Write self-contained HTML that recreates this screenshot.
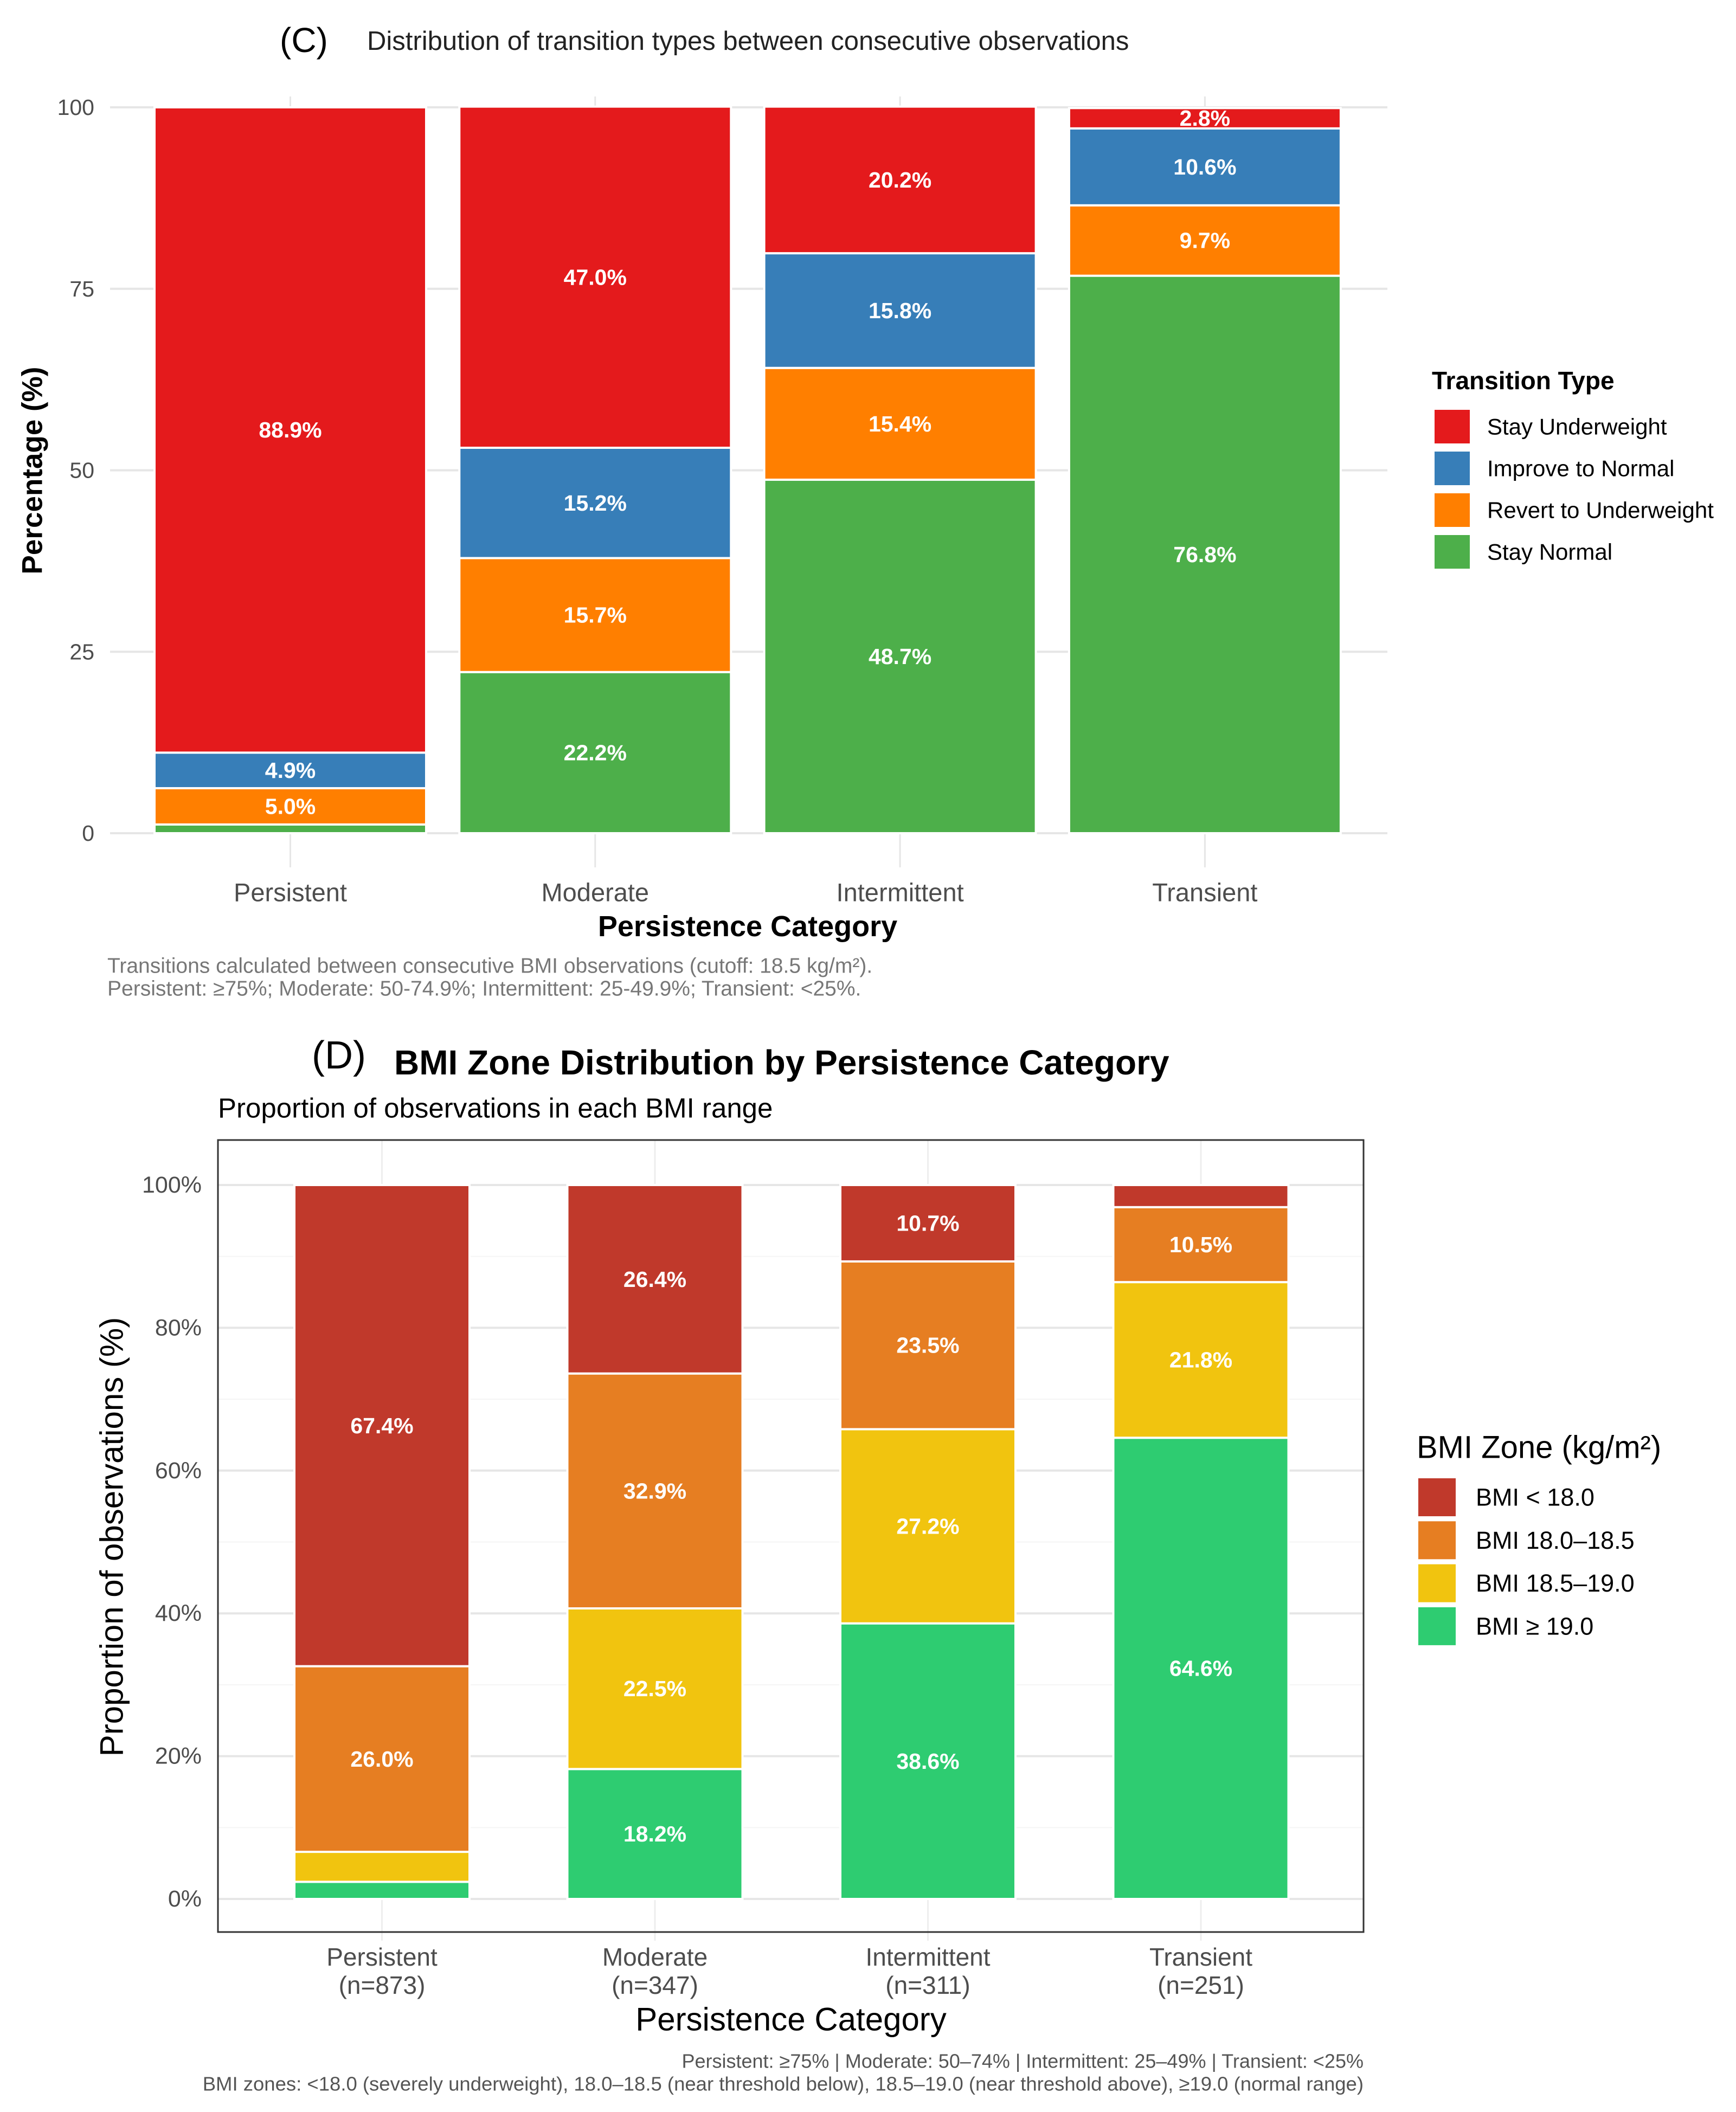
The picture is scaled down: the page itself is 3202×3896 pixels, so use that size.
<!DOCTYPE html>
<html><head><meta charset="utf-8">
<style>
html,body{margin:0;padding:0;background:#fff;}
svg{display:block;font-family:"Liberation Sans",sans-serif;}
</style></head>
<body>
<svg id="fig" width="3202" height="3896" viewBox="0 0 3202 3896" xmlns="http://www.w3.org/2000/svg">
  <g id="panelC">
    <text x="516" y="74" font-size="64" dominant-baseline="central" fill="#000">(C)</text>
    <text x="677" y="76" font-size="49" dominant-baseline="central" fill="#222">Distribution of transition types between consecutive observations</text>
    <g id="gridC"></g>
    <g id="barsC"></g>
    <text transform="translate(60,868) rotate(-90)" text-anchor="middle" dominant-baseline="central" font-size="53" font-weight="bold" fill="#000">Percentage (%)</text>
    <text x="1379" y="1709" text-anchor="middle" dominant-baseline="central" font-size="54" font-weight="bold" fill="#000">Persistence Category</text>
    <text x="198" y="1782" dominant-baseline="central" font-size="39" fill="#777">Transitions calculated between consecutive BMI observations (cutoff: 18.5 kg/m²).</text>
    <text x="198" y="1824" dominant-baseline="central" font-size="39" fill="#777">Persistent: ≥75%; Moderate: 50-74.9%; Intermittent: 25-49.9%; Transient: &lt;25%.</text>
    <g id="legendC">
      <text x="2641" y="702" dominant-baseline="central" font-size="46" font-weight="bold" fill="#000">Transition Type</text>
    </g>
  </g>
  <g id="panelD">
    <text x="575" y="1947" font-size="72" dominant-baseline="central" fill="#000">(D)</text>
    <text x="727" y="1960" font-size="64" font-weight="bold" dominant-baseline="central" fill="#000">BMI Zone Distribution by Persistence Category</text>
    <text x="402" y="2044" font-size="51" dominant-baseline="central" fill="#000">Proportion of observations in each BMI range</text>
    <g id="gridD"></g>
    <g id="barsD"></g>
    <rect x="402" y="2103" width="2113" height="1461" fill="none" stroke="#333" stroke-width="3"/>
    <text transform="translate(206,2835) rotate(-90)" text-anchor="middle" dominant-baseline="central" font-size="60" fill="#000">Proportion of observations (%)</text>
    <text x="1459" y="3725" text-anchor="middle" dominant-baseline="central" font-size="60" fill="#000">Persistence Category</text>
    <text x="2515" y="3802" text-anchor="end" dominant-baseline="central" font-size="36" fill="#555">Persistent: ≥75%  |  Moderate: 50–74%  |  Intermittent: 25–49%  |  Transient: &lt;25%</text>
    <text x="2515" y="3844" text-anchor="end" dominant-baseline="central" font-size="36.5" fill="#555">BMI zones: &lt;18.0 (severely underweight), 18.0–18.5 (near threshold below), 18.5–19.0 (near threshold above), ≥19.0 (normal range)</text>
    <g id="legendD">
      <text x="2613" y="2670" dominant-baseline="central" font-size="58" fill="#000">BMI Zone (kg/m²)</text>
    </g>
  </g>
</svg>
<script>
// ---------- Panel C data ----------
const catsC = ["Persistent","Moderate","Intermittent","Transient"];
const seriesNamesC = ["Stay Normal","Revert to Underweight","Improve to Normal","Stay Underweight"];
const stayNormalC = [1.2, 22.2, 48.7, 76.8];
const revertC = [5.0, 15.7, 15.4, 9.7];
const improveC = [4.9, 15.2, 15.8, 10.6];
const stayUnderC = [88.9, 47.0, 20.2, 2.8];
const ticksC = [0, 25, 50, 75, 100];
// ---------- Panel D data ----------
const catsD = ["Persistent","Moderate","Intermittent","Transient"];
const nD = [873, 347, 311, 251];
const seriesNamesD = ["BMI ≥ 19.0","BMI 18.5–19.0","BMI 18.0–18.5","BMI < 18.0"];
const bmi19plusD = [2.4, 18.2, 38.6, 64.6];
const bmi185to19D = [4.2, 22.5, 27.2, 21.8];
const bmi18to185D = [26.0, 32.9, 23.5, 10.5];
const bmiUnder18D = [67.4, 26.4, 10.7, 3.1];
const ticksD = [0, 20, 40, 60, 80, 100];

const NS = "http://www.w3.org/2000/svg";
function mk(tag, attrs, parent){
  const e = document.createElementNS(NS, tag);
  for (const k in attrs) e.setAttribute(k, attrs[k]);
  parent.appendChild(e);
  return e;
}

function drawPanel(cfg){
  const {cats, series, names, colors, ticks, grid, bars, legend, y0, y100, xL, xR, barL, bandW, barW, tickFmt, labelMin, tickX, prefix, xLabelY, xLabels, legendKey} = cfg;
  const yS = v => y0 - (v/100)*(y0-y100);
  const cx = i => barL + i*bandW + barW/2;
  if (cfg.minor){
    for (let i=0;i<ticks.length-1;i++){
      const mv=(ticks[i]+ticks[i+1])/2;
      const l = mk("line",{x1:xL,x2:xR,y1:yS(mv),y2:yS(mv),stroke:"#f5f5f5","stroke-width":2},grid);
      
      
    }
  }
  ticks.forEach(t=>{
    const l = mk("line",{x1:xL,x2:xR,y1:yS(t),y2:yS(t),stroke:"#e6e6e6","stroke-width":4},grid);
    
    
    const tx = mk("text",{x:tickX,y:yS(t),"text-anchor":"end","dominant-baseline":"central","font-size":cfg.tickSize,fill:"#4d4d4d"},grid);
    tx.textContent = tickFmt(t);
    
    
  });
  cats.forEach((c,i)=>{
    const vl = mk("line",{x1:cx(i),x2:cx(i),y1:cfg.vTop,y2:cfg.vBot,stroke:cfg.vColor,"stroke-width":cfg.vW},grid);
    
    
    const lines = xLabels(i);
    lines.forEach((ln,j)=>{
      const t = mk("text",{x:cx(i),y:xLabelY[j],"text-anchor":"middle","dominant-baseline":"central","font-size":cfg.xLabSize,fill:"#4d4d4d"},grid);
      t.textContent = ln;
      
      
    });
    let cum = 0;
    series.forEach((arr,s)=>{
      const v = arr[i];
      const ya = yS(cum), yb = yS(cum+v);
      const r = mk("rect",{x:barL+i*bandW,y:yb,width:barW,height:ya-yb,fill:colors[s],stroke:"#fff","stroke-width":4},bars);
      
      
      if (v>=labelMin){
        const t = mk("text",{x:cx(i),y:(ya+yb)/2,"text-anchor":"middle","dominant-baseline":"central","font-size":cfg.valSize,"font-weight":"bold",fill:"#fff"},bars);
        t.textContent = v.toFixed(1)+"%";
        
        
      }
      cum += v;
    });
  });
  const order = [3,2,1,0];
  order.forEach((s,k)=>{
    const y = legendKey.y0 + k*legendKey.step;
    const r = mk("rect",{x:legendKey.x,y:y,width:legendKey.w,height:legendKey.h,fill:colors[s]},legend);
    
    
    const t = mk("text",{x:legendKey.tx,y:y+legendKey.h/2,"dominant-baseline":"central","font-size":legendKey.fs,fill:"#000"},legend);
    t.textContent = names[s];
    
    
  });
}

drawPanel({
  prefix:"panel-c", cats:catsC, series:[stayNormalC,revertC,improveC,stayUnderC], names:seriesNamesC,
  colors:["#4DAF4A","#FF7F00","#377EB8","#E41A1C"], ticks:ticksC, minor:false,
  grid:document.getElementById("gridC"), bars:document.getElementById("barsC"), legend:document.getElementById("legendC"),
  y0:1537, y100:198, xL:203, xR:2559, barL:285, bandW:562.3, barW:501,
  tickFmt:t=>String(t), tickSize:41, tickX:174, labelMin:2, valSize:41,
  vTop:198-20, vBot:1600, vColor:"#e6e6e6", vW:3,
  xLabelY:[1646], xLabSize:47, xLabels:i=>[catsC[i]],
  legendKey:{x:2646,y0:756,step:77,w:65,h:62,tx:2743,fs:42}
});
drawPanel({
  prefix:"panel-d", cats:catsD, series:[bmi19plusD,bmi185to19D,bmi18to185D,bmiUnder18D], names:seriesNamesD,
  colors:["#2ECC71","#F1C40F","#E67E22","#C0392B"], ticks:ticksD, minor:true,
  grid:document.getElementById("gridD"), bars:document.getElementById("barsD"), legend:document.getElementById("legendD"),
  y0:3503, y100:2186, xL:402, xR:2515, barL:543, bandW:503.5, barW:323,
  tickFmt:t=>t+"%", tickSize:43, tickX:372, labelMin:5, valSize:41,
  vTop:2103, vBot:3580, vColor:"#eeeeee", vW:3,
  xLabelY:[3610,3662], xLabSize:46, xLabels:i=>[catsD[i],"(n="+nD[i]+")"],
  legendKey:{x:2616,y0:2727,step:79.3,w:69,h:70,tx:2722,fs:45}
});
</script>
</body></html>
